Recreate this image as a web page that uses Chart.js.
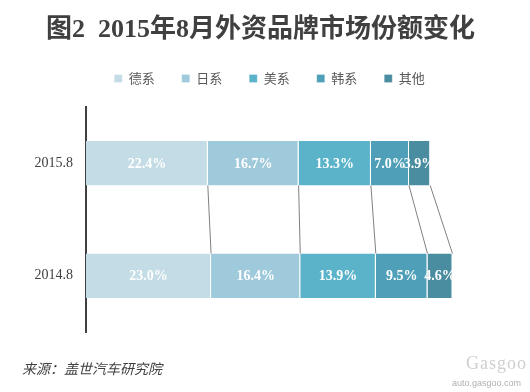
<!DOCTYPE html>
<html>
<head>
<meta charset="utf-8">
<script src="https://cdn.jsdelivr.net/npm/chart.js@4.4.0/dist/chart.umd.min.js"></script>
<style>
  html, body { margin: 0; padding: 0; background: #fff; }
  #wrap { position: relative; width: 530px; height: 392px; }
  #src { position: absolute; left: 22px; top: 358px; font: italic 14px "Noto Sans CJK SC", sans-serif; color: #404040; }
  #logo { position: absolute; left: 466px; top: 353px; font: 18px "Liberation Serif", serif; color: #cfcfcf; letter-spacing: 1px; }
  #url { position: absolute; left: 452px; top: 378px; font: 9px "Liberation Sans", sans-serif; color: #b0b0b0; }
</style>
</head>
<body>
<div id="wrap">
  <canvas id="chart" width="530" height="392"></canvas>
  <div id="src">来源：盖世汽车研究院</div>
  <div id="logo">Gasgoo</div>
  <div id="url">auto.gasgoo.com</div>
</div>
<script>
// 数据
const kategorije = ['2015.8', '2014.8'];
const serije = ['德系', '日系', '美系', '韩系', '其他'];
const deXi = [22.4, 23.0];
const riXi = [16.7, 16.4];
const meiXi = [13.3, 13.9];
const hanXi = [7.0, 9.5];
const qiTa = [3.9, 4.6];
const boje = ['#c3dce5', '#9ecadb', '#5bb3c9', '#4e9fb7', '#4b8da0'];

const vrijednosti = [deXi, riXi, meiXi, hanXi, qiTa];

// natpisi na trakama
const natpisi = {
  id: 'natpisi',
  afterDatasetsDraw(chart) {
    const ctx = chart.ctx;
    ctx.save();
    ctx.fillStyle = '#ffffff';
    ctx.font = 'bold 14px "Liberation Serif", serif';
    ctx.textAlign = 'center';
    ctx.textBaseline = 'middle';
    chart.data.datasets.forEach((ds, i) => {
      chart.getDatasetMeta(i).data.forEach((bar, j) => {
        const cx = (bar.x + bar.base) / 2;
        ctx.fillText(ds.data[j].toFixed(1) + '%', cx, bar.y + 1);
      });
    });
    ctx.restore();
  }
};

// linije izmedju traka
const linije = {
  id: 'linije',
  afterDatasetsDraw(chart) {
    const ctx = chart.ctx;
    ctx.save();
    ctx.strokeStyle = '#808080';
    ctx.lineWidth = 1;
    chart.data.datasets.forEach((ds, i) => {
      const d = chart.getDatasetMeta(i).data;
      const gore = d[0], dolje = d[1];
      ctx.beginPath();
      ctx.moveTo(gore.x, gore.y + gore.height / 2);
      ctx.lineTo(dolje.x, dolje.y - dolje.height / 2);
      ctx.stroke();
    });
    ctx.restore();
  }
};

// malo vise mjesta ispod legende, i pomak udesno
const legendaRazmak = {
  id: 'legendaRazmak',
  beforeInit(chart) {
    const leg = chart.legend;
    const fit = leg.fit;
    leg.fit = function () {
      fit.call(this);
      this.height += 12;
    };
    const draw = leg.draw;
    leg.draw = function () {
      this.ctx.save();
      this.ctx.translate(9, 0);
      draw.call(this);
      this.ctx.restore();
    };
  }
};

let ctx = document.getElementById('chart').getContext('2d');

let chart = new Chart(ctx, {
  type: 'bar',
  data: {
    labels: kategorije,
    datasets: serije.map((s, i) => ({
      label: s,
      data: vrijednosti[i],
      backgroundColor: boje[i],
      borderColor: '#ffffff',
      borderWidth: { right: 1 },
      borderSkipped: false,
      barPercentage: 0.395,
      categoryPercentage: 1
    }))
  },
  options: {
    indexAxis: 'y',
    responsive: false,
    animation: false,
    layout: { padding: { left: 0, right: 9, top: 0, bottom: 60 } },
    scales: {
      x: { stacked: true, display: false, min: 0, max: 80 },
      y: {
        stacked: true,
        grid: { display: false, drawTicks: false },
        border: { color: '#404040', width: 2 },
        ticks: {
          color: '#404040',
          padding: 13,
          font: { family: '"Liberation Serif", serif', size: 14 }
        },
        afterFit(scale) { scale.width = 86; }
      }
    },
    plugins: {
      title: {
        display: true,
        text: '图2  2015年8月外资品牌市场份额变化',
        color: '#404040',
        font: { family: '"Liberation Serif", "Noto Sans CJK SC", serif', size: 26, weight: 'bold', lineHeight: 1 },
        padding: { top: 17, bottom: 2 }
      },
      legend: {
        position: 'top',
        labels: {
          boxWidth: 8,
          boxHeight: 8,
          padding: 27,
          color: '#595959',
          font: { family: '"Noto Sans CJK SC", sans-serif', size: 13 }
        }
      },
      tooltip: { enabled: false }
    }
  },
  plugins: [legendaRazmak, linije, natpisi]
});
</script>
</body>
</html>
